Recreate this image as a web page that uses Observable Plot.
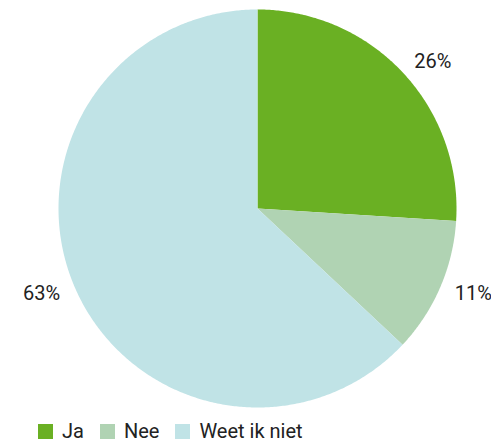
<!DOCTYPE html>
<html>
<head>
<meta charset="utf-8">
<script src="https://cdn.jsdelivr.net/npm/d3@7"></script>
<script src="https://cdn.jsdelivr.net/npm/@observablehq/plot@0.6"></script>
<style>
  body { margin: 0; background: #fff; font-family: Roboto, "Open Sans", sans-serif; }
  #legend { display: flex; align-items: center; margin-left: 38px; margin-top: 7px; font-size: 20px; color: #222; height: 16px; }
  .item { display: flex; align-items: center; margin-right: 16px; }
  .sw { width: 15px; height: 15px; margin-right: 9px; display: inline-block; }
</style>
</head>
<body>
<div id="chart"></div>
<div id="legend"></div>
<script>
const categories = ["Ja", "Nee", "Weet ik niet"];
const values = [26, 11, 63];
const labels = ["26%", "11%", "63%"];
const colors = ["#6ab023", "#b0d3b3", "#c0e3e6"];

const pie = d3.pie().sort(null).value(d => d.value);
const arcs = pie(categories.map((c, i) => ({ category: c, value: values[i], label: labels[i] })));

function slicePolygon(a) {
  const pts = [[0, 0]];
  const n = Math.max(2, Math.ceil((a.endAngle - a.startAngle) / (Math.PI / 360)));
  for (let k = 0; k <= n; k++) {
    const t = a.startAngle + (a.endAngle - a.startAngle) * k / n;
    pts.push([Math.sin(t), -Math.cos(t)]);
  }
  pts.push([0, 0]);
  return { type: "Feature", properties: { category: a.data.category }, geometry: { type: "Polygon", coordinates: [pts] } };
}
const slices = arcs.map(slicePolygon);
const labelRadius = 1.08;
const labelData = arcs.map(a => {
  const m = (a.startAngle + a.endAngle) / 2;
  return { x: labelRadius * Math.sin(m), y: -labelRadius * Math.cos(m), label: a.data.label, anchor: Math.sin(m) >= 0 ? "start" : "end" };
});

const chart = Plot.plot({
  width: 491,
  height: 416,
  marginLeft: 58,
  marginRight: 35,
  marginTop: 9,
  marginBottom: 9,
  projection: { type: "identity", clip: false, domain: { type: "MultiPoint", coordinates: [[-1, -1], [1, 1]] } },
  color: { domain: categories, range: colors },
  style: { fontFamily: "Roboto, 'Open Sans', sans-serif", background: "#fff", overflow: "visible" },
  marks: [
    Plot.geo(slices, { fill: d => d.properties.category }),
    Plot.text(labelData.filter(d => d.anchor === "start"), { x: "x", y: "y", text: "label", fontSize: 20, fill: "#222", textAnchor: "start", clip: false }),
    Plot.text(labelData.filter(d => d.anchor === "end"), { x: "x", y: "y", text: "label", fontSize: 20, fill: "#222", textAnchor: "end", clip: false })
  ]
});
document.getElementById("chart").appendChild(chart);

const legend = document.getElementById("legend");
categories.forEach((c, i) => {
  const item = document.createElement("span");
  item.className = "item";
  const sw = document.createElement("span");
  sw.className = "sw";
  sw.style.background = colors[i];
  item.appendChild(sw);
  item.appendChild(document.createTextNode(c));
  legend.appendChild(item);
});
</script>
</body>
</html>
